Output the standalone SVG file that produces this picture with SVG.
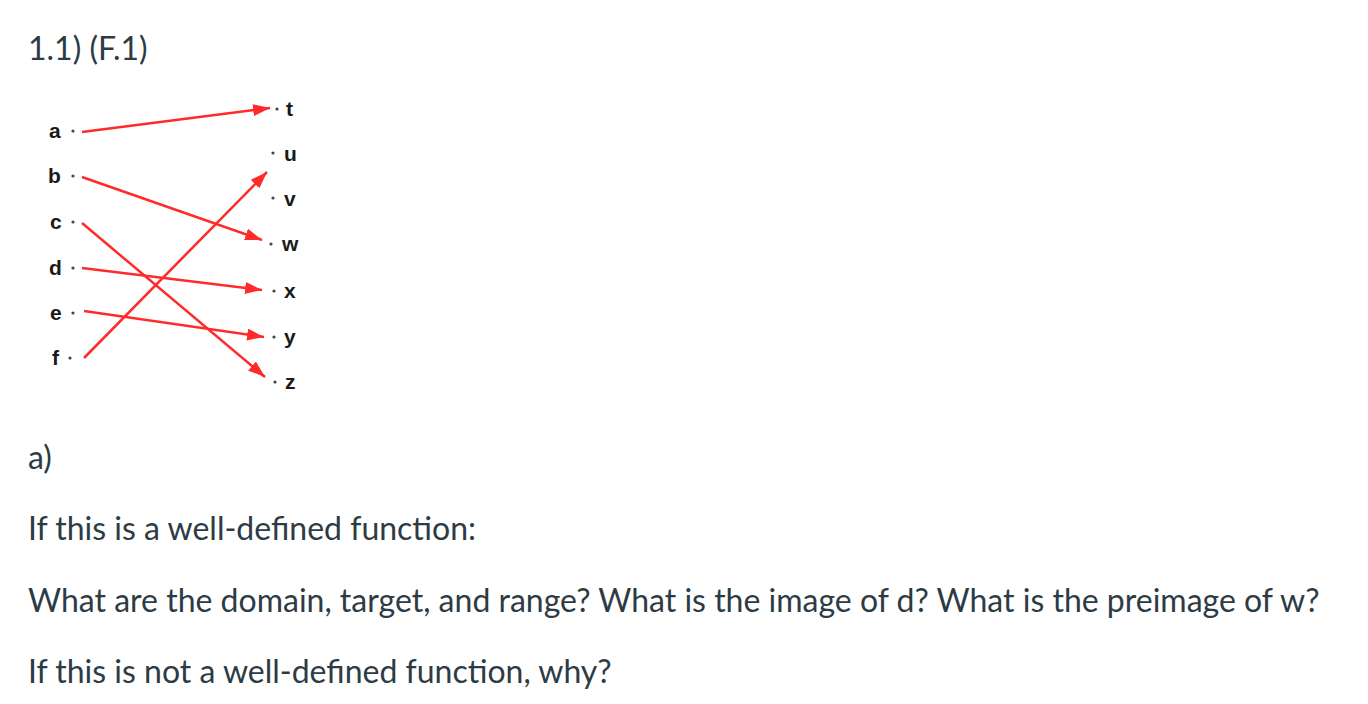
<svg xmlns="http://www.w3.org/2000/svg" width="1368" height="704" viewBox="0 0 1368 704">
<style>
.txt{font-family:Lato,"Open Sans",sans-serif;font-size:32px;fill:#2d3b45}
.lbl{font-family:"Liberation Sans",Arial,sans-serif;font-weight:bold;font-size:21px;fill:#1a1a1a}
.dot{fill:#444}
.edge{stroke:#ff2a2a;stroke-width:2.5;fill:none;marker-end:url(#ah)}
</style>
<defs>
<marker id="ah" markerUnits="userSpaceOnUse" markerWidth="18" markerHeight="12" refX="17" refY="6" orient="auto">
<path d="M0,0 L17,6 L0,12 Z" fill="#ff2a2a"/>
</marker>
</defs>
<rect width="1368" height="704" fill="#fff"/>
<text class="txt" x="28" y="60">1.1) (F.1)</text>
<g id="left">
<g id="n-a"><text class="lbl" x="49" y="138">a</text><circle class="dot" cx="73" cy="131" r="1.6"/></g>
<g id="n-b"><text class="lbl" x="48" y="183">b</text><circle class="dot" cx="73" cy="176" r="1.6"/></g>
<g id="n-c"><text class="lbl" x="50" y="229">c</text><circle class="dot" cx="73" cy="222" r="1.6"/></g>
<g id="n-d"><text class="lbl" x="49" y="275">d</text><circle class="dot" cx="73" cy="268" r="1.6"/></g>
<g id="n-e"><text class="lbl" x="50" y="320">e</text><circle class="dot" cx="73" cy="313" r="1.6"/></g>
<g id="n-f"><text class="lbl" x="52" y="365">f</text><circle class="dot" cx="70" cy="358" r="1.6"/></g>
</g>
<g id="right">
<g id="n-t"><circle class="dot" cx="277" cy="109" r="1.6"/><text class="lbl" x="286" y="116">t</text></g>
<g id="n-u"><circle class="dot" cx="273" cy="153" r="1.6"/><text class="lbl" x="284" y="161">u</text></g>
<g id="n-v"><circle class="dot" cx="273" cy="198" r="1.6"/><text class="lbl" x="284" y="206">v</text></g>
<g id="n-w"><circle class="dot" cx="271" cy="244" r="1.6"/><text class="lbl" x="282" y="251">w</text></g>
<g id="n-x"><circle class="dot" cx="274" cy="291" r="1.6"/><text class="lbl" x="284" y="298">x</text></g>
<g id="n-y"><circle class="dot" cx="274" cy="337" r="1.6"/><text class="lbl" x="284" y="344">y</text></g>
<g id="n-z"><circle class="dot" cx="275" cy="382" r="1.6"/><text class="lbl" x="285" y="389">z</text></g>
</g>
<g id="connectors">
<line class="edge" x1="82" y1="132" x2="270" y2="108"/>
<line class="edge" x1="82" y1="177" x2="262" y2="240"/>
<line class="edge" x1="82" y1="223" x2="265" y2="377"/>
<line class="edge" x1="82" y1="268" x2="262" y2="290"/>
<line class="edge" x1="84" y1="311" x2="264" y2="337"/>
<line class="edge" x1="84" y1="358" x2="267" y2="172"/>
</g>
<text class="txt" x="28" y="469">a)</text>
<text class="txt" x="28" y="540">If this is a well-defined function:</text>
<text class="txt" x="28" y="612">What are the domain, target, and range? What is the image of d? What is the preimage of w?</text>
<text class="txt" x="28" y="683">If this is not a well-defined function, why?</text>
</svg>
